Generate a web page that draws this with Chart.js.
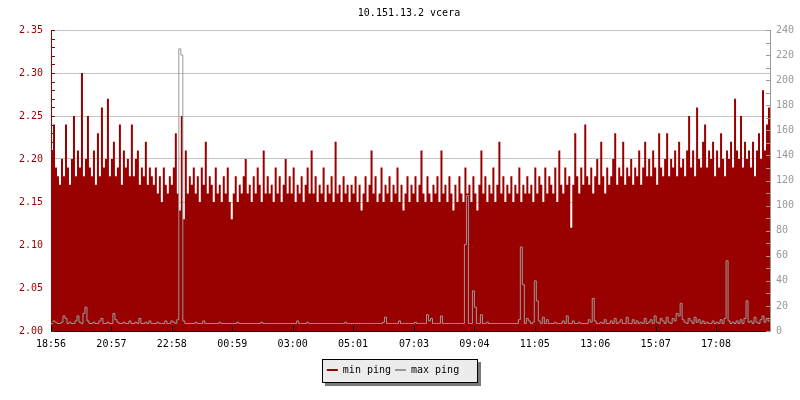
<!DOCTYPE html>
<html><head><meta charset="utf-8">
<script src="https://cdn.jsdelivr.net/npm/chart.js@4/dist/chart.umd.min.js"></script>
<style>html,body{margin:0;padding:0;background:#fff;overflow:hidden}canvas{display:block}</style>
</head><body>
<canvas id="c" width="800" height="400"></canvas>
<script>
const TITLE = '10.151.13.2 vcera';
const STEP_MIN = 4;
const SPAN_MIN = 1440;
const tickMinutes = [0,121,242,363,484,605,727,848,969,1090,1211,1332];
const tickLabels = ['18:56','20:57','22:58','00:59','03:00','05:01','07:03','09:04','11:05','13:06','15:07','17:08'];
const seriesNames = ['min ping','max ping'];

const minPing = [
2.21,2.24,2.19,2.18,2.17,2.20,2.18,2.24,2.19,2.17,
2.20,2.25,2.18,2.21,2.19,2.30,2.18,2.20,2.25,2.19,
2.18,2.21,2.17,2.23,2.18,2.26,2.19,2.20,2.27,2.18,
2.20,2.22,2.18,2.19,2.24,2.17,2.21,2.19,2.20,2.18,
2.24,2.18,2.20,2.21,2.17,2.19,2.18,2.22,2.17,2.19,
2.18,2.17,2.19,2.16,2.18,2.15,2.19,2.17,2.16,2.18,
2.17,2.19,2.23,2.16,2.14,2.25,2.13,2.21,2.16,2.18,
2.17,2.19,2.16,2.18,2.15,2.19,2.17,2.22,2.16,2.18,
2.17,2.15,2.19,2.16,2.17,2.15,2.18,2.16,2.19,2.15,
2.13,2.16,2.18,2.15,2.17,2.16,2.18,2.20,2.16,2.17,
2.15,2.18,2.16,2.19,2.17,2.15,2.21,2.16,2.18,2.16,
2.17,2.15,2.19,2.16,2.18,2.15,2.17,2.20,2.16,2.18,
2.16,2.19,2.15,2.17,2.16,2.18,2.15,2.17,2.19,2.16,
2.21,2.16,2.18,2.15,2.17,2.16,2.19,2.15,2.17,2.16,
2.18,2.15,2.22,2.16,2.17,2.15,2.18,2.16,2.17,2.15,
2.17,2.16,2.18,2.15,2.17,2.14,2.16,2.18,2.15,2.17,
2.21,2.16,2.18,2.15,2.16,2.19,2.15,2.17,2.16,2.18,
2.15,2.17,2.16,2.19,2.15,2.17,2.14,2.16,2.18,2.15,
2.17,2.16,2.18,2.15,2.17,2.21,2.16,2.15,2.18,2.16,
2.15,2.17,2.16,2.18,2.15,2.21,2.16,2.17,2.15,2.18,
2.16,2.14,2.17,2.15,2.18,2.16,2.15,2.19,2.16,2.17,
2.15,2.18,2.16,2.14,2.17,2.21,2.16,2.18,2.15,2.17,
2.16,2.19,2.15,2.17,2.22,2.16,2.18,2.15,2.17,2.16,
2.18,2.15,2.17,2.16,2.19,2.15,2.17,2.16,2.18,2.16,
2.17,2.15,2.19,2.16,2.18,2.17,2.15,2.19,2.16,2.18,
2.17,2.16,2.19,2.15,2.21,2.17,2.16,2.19,2.17,2.18,
2.12,2.17,2.23,2.18,2.16,2.19,2.17,2.24,2.18,2.17,
2.19,2.16,2.18,2.20,2.17,2.22,2.18,2.16,2.19,2.17,
2.18,2.20,2.23,2.17,2.19,2.18,2.22,2.17,2.19,2.18,
2.20,2.17,2.19,2.18,2.21,2.17,2.19,2.22,2.18,2.20,
2.18,2.21,2.19,2.17,2.23,2.19,2.18,2.20,2.23,2.18,
2.20,2.19,2.21,2.18,2.22,2.19,2.20,2.18,2.21,2.25,
2.19,2.21,2.18,2.26,2.20,2.19,2.22,2.24,2.19,2.21,
2.20,2.22,2.18,2.21,2.19,2.23,2.20,2.18,2.21,2.20,
2.22,2.19,2.27,2.21,2.20,2.25,2.19,2.22,2.20,2.21,
2.19,2.22,2.18,2.21,2.23,2.20,2.28,2.21,2.24,2.26
];

const maxPing = [
6,8,7,6,6,7,12,10,6,7,
6,6,8,12,7,6,14,19,8,6,
6,7,6,6,8,10,6,6,7,6,
6,14,9,7,6,6,7,6,6,8,
6,6,7,6,10,6,6,7,6,8,
6,6,6,7,6,6,6,8,6,6,
8,7,6,9,225,220,8,6,6,6,
6,6,7,6,6,6,8,6,6,6,
6,6,6,6,7,6,6,6,6,6,
6,6,6,7,6,6,6,6,6,6,
6,6,6,6,6,7,6,6,6,6,
6,6,6,6,6,6,6,6,6,6,
6,6,6,8,6,6,6,6,7,6,
6,6,6,6,6,6,6,6,6,6,
6,6,6,6,6,6,6,7,6,6,
6,6,6,6,6,6,6,6,6,6,
6,6,6,6,6,6,7,11,6,6,
6,6,6,6,8,6,6,6,6,6,
6,6,7,6,6,6,6,6,13,8,
10,6,6,6,6,12,6,6,6,6,
6,6,6,6,6,6,6,69,108,6,
6,32,19,6,6,13,6,6,7,6,
6,6,6,6,6,6,6,6,6,6,
6,6,6,6,9,67,37,6,10,8,
6,7,40,24,8,6,11,6,9,6,
6,6,7,6,6,6,8,6,12,6,
6,8,6,6,7,6,6,6,6,9,
7,26,8,6,6,7,6,9,6,6,
8,6,10,6,7,9,6,6,11,6,
6,9,6,8,6,7,6,10,6,7,
9,6,12,7,6,10,8,6,11,7,
6,10,8,14,12,22,9,7,6,10,
8,6,11,7,9,6,8,6,7,6,
6,8,6,7,6,9,6,10,56,8,
6,7,6,8,6,9,6,10,24,7,
8,6,11,7,6,9,12,7,10,8
];

const MONO = "'DejaVu Sans Mono', monospace";
Chart.defaults.font.family = MONO;
Chart.defaults.font.size = 10;

function toPoints(arr){
  const pts = arr.map((v,i)=>({x:i*STEP_MIN, y:v}));
  pts.push({x:SPAN_MIN, y:arr[arr.length-1]});
  return pts;
}

const shiftBlocks = {
  id:'shiftBlocks',
  afterLayout(chart){
    if (chart.titleBlock) { chart.titleBlock.left += 18; }
    if (chart.legend) { chart.legend.right -= 14; }
  }
};

const inwardTicks = {
  id:'inwardTicks',
  afterDatasetsDraw(chart){
    const {ctx, chartArea:a, scales} = chart;
    ctx.save();
    ctx.lineWidth = 1;
    const y = scales.y;
    ctx.strokeStyle = '#990000';
    y.ticks.forEach(t=>{
      const py = Math.round(y.getPixelForValue(t.value)) + 0.5;
      ctx.beginPath(); ctx.moveTo(a.left, py); ctx.lineTo(a.left+4, py); ctx.stroke();
    });
    const y2 = scales.y2;
    ctx.strokeStyle = '#999999';
    y2.ticks.forEach(t=>{
      const py = Math.round(y2.getPixelForValue(t.value)) + 0.5;
      ctx.beginPath(); ctx.moveTo(a.right-4, py); ctx.lineTo(a.right, py); ctx.stroke();
    });
    const x = scales.x;
    ctx.strokeStyle = '#000000';
    x.ticks.forEach(t=>{
      const px = Math.round(x.getPixelForValue(t.value)) + 0.5;
      ctx.beginPath(); ctx.moveTo(px, a.bottom-5); ctx.lineTo(px, a.bottom); ctx.stroke();
    });
    ctx.restore();
  }
};

const legendBox = {
  id:'legendBox',
  beforeDraw(chart){
    const lg = chart.legend;
    if (!lg || !lg.legendHitBoxes || !lg.legendHitBoxes.length) return;
    const hb = lg.legendHitBoxes;
    const first = hb[0], last = hb[hb.length-1];
    const cy = first.top + first.height/2;
    const l = Math.round(first.left) - 5;
    const r = Math.round(last.left + last.width) + 18;
    const t = Math.round(cy) - 11;
    const b = Math.round(cy) + 12;
    const ctx = chart.ctx;
    ctx.save();
    ctx.fillStyle = '#7a7a7a';
    ctx.fillRect(l+3, t+3, r-l+1, b-t+1);
    ctx.fillStyle = '#ececec';
    ctx.fillRect(l, t, r-l, b-t);
    ctx.strokeStyle = '#000';
    ctx.lineWidth = 1;
    ctx.strokeRect(l+0.5, t+0.5, r-l, b-t);
    ctx.restore();
  }
};

new Chart(document.getElementById('c'), {
  type:'line',
  data:{
    datasets:[
      { label:seriesNames[0], data:toPoints(minPing), yAxisID:'y', order:2,
        stepped:true, fill:'start', backgroundColor:'#990000', borderColor:'rgba(0,0,0,0)',
        borderWidth:0, pointRadius:0 },
      { label:seriesNames[1], data:toPoints(maxPing), yAxisID:'y2', order:1,
        stepped:true, fill:false, backgroundColor:'#999999', borderColor:'#9a9a9a',
        borderWidth:1, pointRadius:0 }
    ]
  },
  options:{
    responsive:false, animation:false, events:[], devicePixelRatio:1,
    layout:{ padding:{ top:0, left:0, right:0, bottom:15 } },
    plugins:{
      title:{ display:true, text:TITLE, color:'#000', font:{size:10, family:MONO, weight:'normal'}, padding:{top:7,bottom:11} },
      legend:{ position:'bottom',
        labels:{ boxWidth:11, boxHeight:2, padding:4, color:'#000', font:{size:10, family:MONO},
          sort:(a,b)=>a.datasetIndex-b.datasetIndex,
          generateLabels(chart){
            return Chart.defaults.plugins.legend.labels.generateLabels(chart)
              .map(l=>Object.assign({}, l, {lineWidth:0, strokeStyle:'rgba(0,0,0,0)'}));
          } } },
      tooltip:{ enabled:false }
    },
    scales:{
      x:{ type:'linear', min:0, max:SPAN_MIN,
        afterBuildTicks(s){ s.ticks = tickMinutes.map(v=>({value:v})); },
        afterFit(s){ s.height = 30; },
        ticks:{ color:'#000', padding:7, autoSkip:false, maxRotation:0, callback:(v,i)=>tickLabels[i] },
        grid:{ drawOnChartArea:false, drawTicks:false },
        border:{ color:'#000' } },
      y:{ position:'left', min:2.0, max:2.35,
        afterBuildTicks(s){ const t=[]; for(let k=0;k<=35;k++) t.push({value:2+k/100}); s.ticks=t; },
        afterFit(s){ s.width = 51; },
        ticks:{ color:'#990000', padding:8, autoSkip:false,
          callback:v=> (Math.round(v*100)%5===0 ? v.toFixed(2) : '') },
        grid:{ drawTicks:false,
          color:c=> (c.tick && Math.round(c.tick.value*100)%5===0) ? '#c4c4c4' : 'rgba(0,0,0,0)' },
        border:{ color:'#990000' } },
      y2:{ position:'right', min:0, max:240,
        afterBuildTicks(s){ const t=[]; for(let k=0;k<=24;k++) t.push({value:k*10}); s.ticks=t; },
        afterFit(s){ s.width = 30; },
        ticks:{ color:'#999999', padding:6, autoSkip:false, callback:v=> (v%20===0 ? String(v) : '') },
        grid:{ drawOnChartArea:false, drawTicks:false },
        border:{ color:'#999999' } }
    }
  },
  plugins:[shiftBlocks, inwardTicks, legendBox]
});
</script>
</body></html>
